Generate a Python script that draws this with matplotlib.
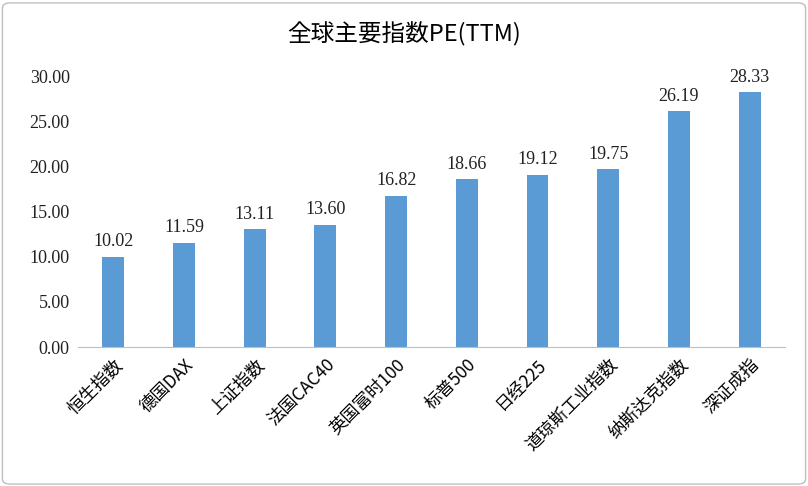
import matplotlib
matplotlib.use("Agg")
import matplotlib.pyplot as plt
from matplotlib.patches import FancyBboxPatch
from matplotlib import font_manager as fm

categories = ["恒生指数", "德国DAX", "上证指数", "法国CAC40", "英国富时100", "标普500", "日经225", "道琼斯工业指数", "纳斯达克指数", "深证成指"]
values = [10.02, 11.59, 13.11, 13.60, 16.82, 18.66, 19.12, 19.75, 26.19, 28.33]
yticks = [0, 5, 10, 15, 20, 25, 30]

cjk_path = None
for f in fm.findSystemFonts():
    n = f.replace("-", "").replace("_", "").lower()
    if "cjk" in n and ("sans" in n) and "bold" not in n and "black" not in n:
        if cjk_path is None or "regular" in n:
            cjk_path = f
if cjk_path:
    cjk = fm.FontProperties(fname=cjk_path)
else:
    cjk = fm.FontProperties(family="Noto Sans CJK SC")

plt.rcParams["font.family"] = ["Liberation Serif"]
fig = plt.figure(figsize=(8.08, 4.86), dpi=100)
fig.patches.append(FancyBboxPatch((0.003, 0.004), 0.994, 0.99, boxstyle="round,pad=0,rounding_size=0.01",
                                  transform=fig.transFigure, fill=False, edgecolor="#bfbfbf", linewidth=1))
ax = fig.add_axes([0.0965, 0.286, 0.875, 0.556])
x = range(len(categories))
ax.bar(x, values, width=0.31, color="#5b9bd5")
for i, v in zip(x, values):
    ax.text(i, v + 0.7, f"{v:.2f}", ha="center", va="bottom", fontsize=13, color="#222222")
ax.set_xlim(-0.5, len(categories) - 0.5)
ax.set_ylim(0, 30)
ax.set_yticks(yticks)
ax.set_yticklabels([f"{t:.2f}" for t in yticks], fontsize=13, color="#222222")
ax.set_xticks(list(x))
ax.set_xticklabels(categories, rotation=45, ha="right", rotation_mode="anchor")
for lab in ax.get_xticklabels():
    p = cjk.copy(); p.set_size(12.5)
    lab.set_fontproperties(p)
for s in ["top", "right", "left"]:
    ax.spines[s].set_visible(False)
ax.spines["bottom"].set_color("#bfbfbf")
ax.tick_params(length=0, pad=6)
tp = cjk.copy(); tp.set_size(17)
fig.text(0.5, 0.93, "全球主要指数PE(TTM)", ha="center", va="center", fontproperties=tp)
fig.savefig("out.png", dpi=100)
